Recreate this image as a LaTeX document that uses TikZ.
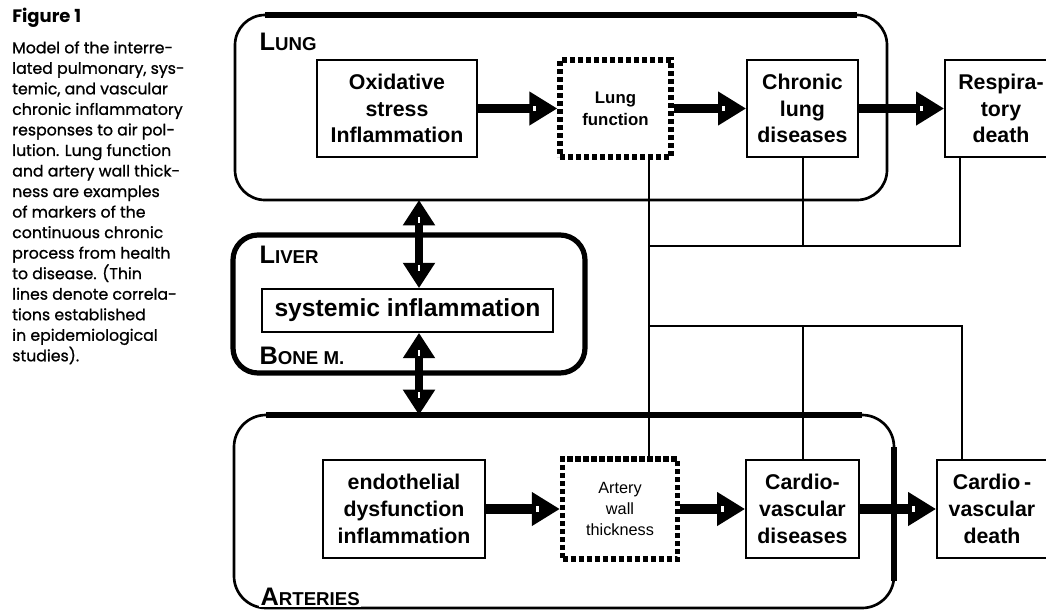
\documentclass[tikz,border=0pt]{standalone}
\usepackage{fontspec}
\setmainfont{Liberation Sans}
\newfontfamily\capfont{Poppins}[FakeBold=0.9]
\newfontfamily\capboldfont{Poppins Bold}
\usetikzlibrary{arrows.meta,decorations.markings}

% box text and small-capital region names
\newcommand{\bxf}{\bfseries\fontsize{16}{20}\selectfont}
\newcommand{\regionname}[2]{{\fontsize{19}{19}\selectfont #1}{\fontsize{14}{14}\selectfont #2}}

\begin{document}
\begin{tikzpicture}[x=0.75pt,y=-0.75pt,
  region/.style={draw, line width=2pt, outer sep=0pt},
  box/.style={draw, line width=1.3pt, align=center, font=\bxf, inner sep=2pt},
  dotbox/.style={draw, line width=3.9pt, dash pattern=on 3.9pt off 2.1pt,
                 align=center, inner sep=2pt},
  tag/.style={anchor=west, font=\bfseries, inner sep=1pt},
  fat/.style={line width=6.8pt, -{Triangle[length=21pt,width=24pt]},
    postaction={decorate, decoration={markings,
      mark=at position -17pt with {\fill[white] (-1.1pt,-2.2pt) rectangle (1.1pt,2.2pt);}}}},
  fatboth/.style={line width=6.4pt,
    {Triangle[length=19pt,width=23pt]}-{Triangle[length=19pt,width=23pt]},
    postaction={decorate, decoration={markings,
      mark=at position 15pt with {\fill[white] (-2.2pt,-1.1pt) rectangle (2.2pt,1.1pt);},
      mark=at position -15pt with {\fill[white] (-2.2pt,-1.1pt) rectangle (2.2pt,1.1pt);}}}},
  corr/.style={line width=1.5pt}
]
\useasboundingbox (0,0) rectangle (1046,611);
\fill[white] (0,0) rectangle (1046,611);

% legend
\node[anchor=north west, inner sep=0pt, font=\capboldfont\fontsize{13.5}{14}\selectfont] (fig) at (12,8) {Figure 1};
\node[anchor=north west, inner sep=0pt, align=left, font=\capfont\fontsize{11.8}{15.4}\selectfont] (cap) at (12,41)
  {Model of the interre-\\lated pulmonary, sys-\\temic, and vascular\\chronic inflammatory\\responses to air pol-\\lution. Lung function\\and artery wall thick-\\ness are examples\\of markers of the\\continuous chronic\\process from health\\to disease. (Thin\\lines denote correla-\\tions established\\in epidemiological\\studies).};

% organ compartments
\node[region, rounded corners=22.5pt, minimum width=489pt, minimum height=138.75pt] (lung) at (561,107.5) {};
\node[region, line width=3.9pt, rounded corners=18.75pt, minimum width=264pt, minimum height=103.5pt] (liver) at (409,304) {};
\node[region, rounded corners=24pt, minimum width=495pt, minimum height=144.75pt] (arteries) at (564,511.5) {};
\draw[line width=3.9pt] ([xshift=22.5pt]lung.north west) -- ([xshift=-22.5pt]lung.north east);
\draw[line width=3.9pt] ([xshift=24pt]arteries.north west) -- ([xshift=-24pt]arteries.north east);
\draw[line width=3.9pt] ([yshift=-24pt]arteries.north east) -- ([yshift=20pt]arteries.south east);

\node[tag] (tlung) at (258,42) {\regionname{L}{UNG}};
\node[tag] (tliver) at (258,255) {\regionname{L}{IVER}};
\node[tag] (tbone) at (258,356) {\regionname{B}{ONE M.}};
\node[tag, fill=white] (tart) at (259,597) {\regionname{A}{RTERIES}};

% pulmonary chain
\node[box, minimum width=120pt, minimum height=72.75pt] (oxi) at (397,108.5) {Oxidative\\stress\\Inflammation};
\node[dotbox, minimum width=83.25pt, minimum height=72.75pt, font=\bfseries\fontsize{12.6}{16.5}\selectfont] (lfn) at (615.5,108.5) {Lung\\function};
\node[box, minimum width=83.25pt, minimum height=72.75pt] (cld) at (802.5,108.5) {Chronic\\lung\\diseases};
\node[box, minimum width=84pt, minimum height=72.75pt] (rd) at (1001,108.5) {Respira-\\tory\\death};

% systemic level
\node[box, minimum width=218.25pt, minimum height=32.25pt, font=\bfseries\fontsize{18.5}{20}\selectfont] (sys) at (407.5,310.5) {systemic inflammation};

% vascular chain
\node[box, minimum width=121.5pt, minimum height=73.5pt] (endo) at (404,509) {endothelial\\dysfunction\\inflammation};
\node[dotbox, minimum width=86.25pt, minimum height=75pt, font=\fontsize{12.2}{15.5}\selectfont] (awt) at (620,509) {Artery\\wall\\thickness};
\node[box, minimum width=84.75pt, minimum height=73.5pt] (cvd) at (802.5,509) {Cardio-\\vascular\\diseases};
\node[box, minimum width=82.5pt, minimum height=73.5pt] (cvdd) at (992,509) {Cardio\,-\\vascular\\death};

% causal arrows
\draw[fat] (oxi) -- (lfn);
\draw[fat] (lfn) -- (cld);
\draw[fat] (cld) -- (rd);
\draw[fat] (endo) -- (awt);
\draw[fat] (awt) -- (cvd);
\draw[fat] (cvd) -- (cvdd);
\coordinate (vx) at (419,0);
\draw[fatboth] (lung.south -| vx) -- (sys.north -| vx);
\draw[fatboth] (sys.south -| vx) -- (arteries.north -| vx);

% correlations
\coordinate (j1) at (649,246);
\coordinate (j2) at (649,326);
\coordinate (k1) at (960,246);
\coordinate (k2) at (962,326);
\draw[corr] (lfn.south -| j1) -- (awt.north -| j1);
\draw[corr] (cld.south) -- (cld.south |- j1);
\draw[corr] (rd.south -| k1) -- (k1) -- (j1);
\draw[corr] (j2) -- (k2) -- (cvdd.north -| k2);
\draw[corr] (cvd.north) -- (cvd.north |- j2);
\end{tikzpicture}
\end{document}
